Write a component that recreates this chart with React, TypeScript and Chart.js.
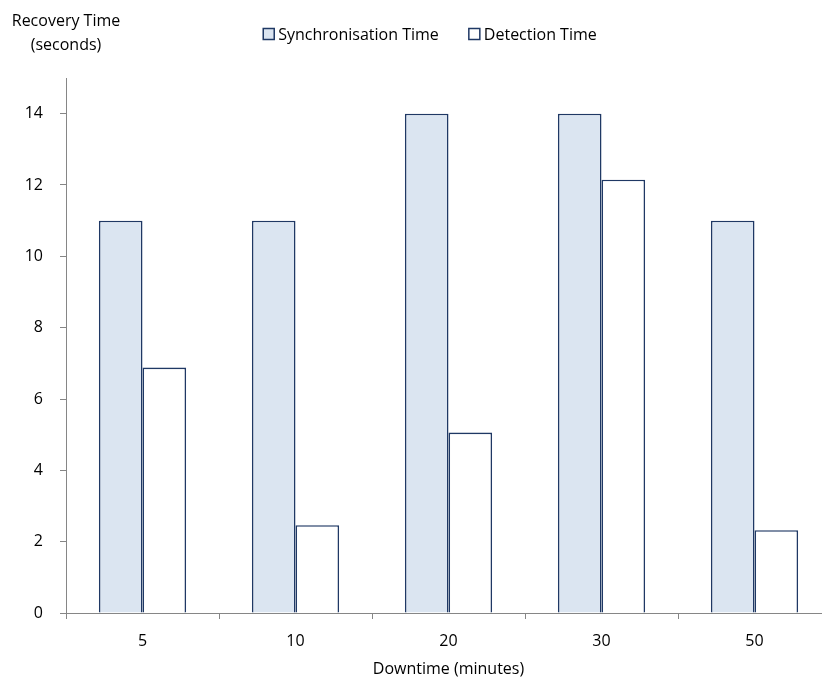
import React, { useEffect, useRef } from "react";
import { Chart, registerables } from "chart.js";

Chart.register(...registerables);

const categories = ["5", "10", "20", "30", "50"];
const seriesLabels = ["Synchronisation Time", "Detection Time"];
const syncTime = [11, 11, 14, 14, 11];
const detectionTime = [6.88, 2.46, 5.06, 12.15, 2.32];
const yTitleLines = ["Recovery Time", "(seconds)"];
const xTitle = "Downtime (minutes)";

const FONT = "'Open Sans', sans-serif";
const FS = 16;
const BORDER = "#1F3864";
const FILLS = ["#DBE5F1", "#FFFFFF"];

const annotatePlugin = {
  id: "annotatePlugin",
  afterDraw(chart: any) {
    const ctx = chart.ctx;
    ctx.save();
    ctx.fillStyle = "#000";
    ctx.font = `${FS}px ${FONT}`;
    ctx.textAlign = "center";
    ctx.textBaseline = "middle";
    const x = chart.chartArea.left;
    ctx.fillText(yTitleLines[0], x, 21);
    ctx.fillText(yTitleLines[1], x, 45);

    // legend
    const box = 11;
    const gap = 4;
    const itemGap = 30;
    const widths = seriesLabels.map((t) => ctx.measureText(t).width);
    const total =
      widths.reduce((a, b) => a + b, 0) + seriesLabels.length * (box + gap) + itemGap * (seriesLabels.length - 1);
    let lx = 430 - total / 2;
    const cy = 34;
    ctx.textAlign = "left";
    seriesLabels.forEach((t, i) => {
      ctx.fillStyle = FILLS[i];
      ctx.fillRect(lx, cy - box / 2, box, box);
      ctx.strokeStyle = BORDER;
      ctx.lineWidth = 1.5;
      ctx.strokeRect(lx, cy - box / 2, box, box);
      ctx.fillStyle = "#000";
      ctx.fillText(t, lx + box + gap, cy + 1);
      lx += box + gap + widths[i] + itemGap;
    });
    ctx.restore();
  },
};

export default function App() {
  const ref = useRef<HTMLCanvasElement>(null);
  useEffect(() => {
    if (!ref.current) return;
    const chart = new Chart(ref.current, {
      type: "bar",
      data: {
        labels: categories,
        datasets: [
          {
            label: seriesLabels[0],
            data: syncTime,
            backgroundColor: FILLS[0],
            borderColor: BORDER,
            borderWidth: 1.6,
            categoryPercentage: 0.57,
            barPercentage: 1,
          },
          {
            label: seriesLabels[1],
            data: detectionTime,
            backgroundColor: FILLS[1],
            borderColor: BORDER,
            borderWidth: 1.6,
            categoryPercentage: 0.57,
            barPercentage: 1,
          },
        ],
      },
      options: {
        responsive: false,
        animation: false,
        layout: { padding: { left: 0, right: 9, top: 78, bottom: 0 } },
        plugins: {
          legend: { display: false },
          tooltip: { enabled: false },
        },
        scales: {
          x: {
            grid: {
              offset: true,
              drawOnChartArea: false,
              drawTicks: true,
              tickLength: 6,
              color: "#868686",
            },
            border: { color: "#868686", width: 1 },
            ticks: { color: "#000", font: { family: FONT, size: FS }, padding: 13 },
            title: {
              display: true,
              text: xTitle,
              color: "#000",
              font: { family: FONT, size: FS },
              padding: { top: 0, bottom: 0 },
            },
            afterFit: (axis: any) => {
              axis.height = 679 - 613;
            },
          },
          y: {
            min: 0,
            max: 15,
            ticks: {
              stepSize: 2,
              color: "#000",
              font: { family: FONT, size: FS },
              padding: 17,
            },
            afterBuildTicks: (axis: any) => {
              axis.ticks = axis.ticks.filter((t: any) => t.value <= 14);
            },
            afterFit: (axis: any) => {
              axis.width = 66;
            },
            grid: {
              drawOnChartArea: false,
              drawTicks: true,
              tickLength: 6,
              color: "#868686",
            },
            border: { color: "#868686", width: 1 },
          },
        },
      },
      plugins: [annotatePlugin],
    });
    return () => chart.destroy();
  }, []);
  return (
    <div
      style={{
        position: "fixed",
        left: 0,
        top: 0,
        width: 822,
        height: 679,
        overflow: "hidden",
        background: "#fff",
      }}
    >
      <canvas ref={ref} width={840} height={679} />
    </div>
  );
}
